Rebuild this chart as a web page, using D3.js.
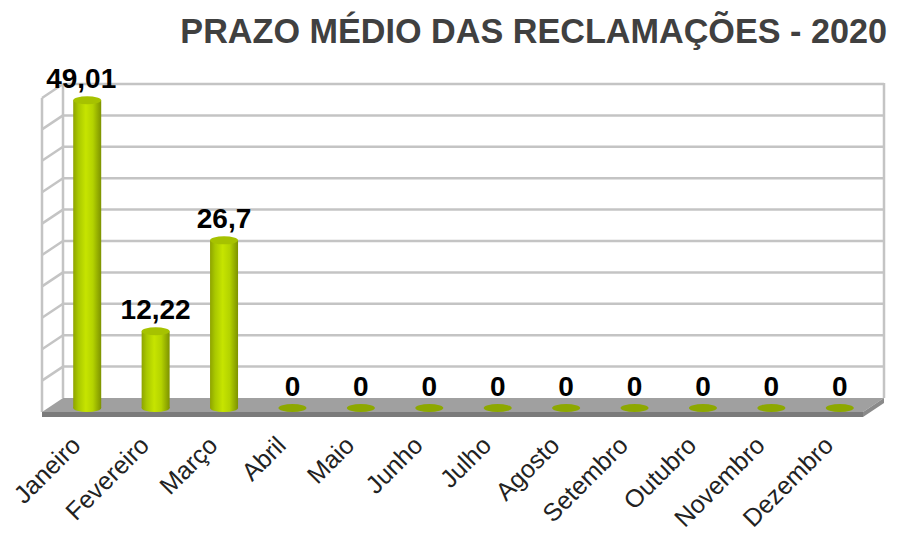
<!DOCTYPE html>
<html lang="pt">
<head>
  <meta charset="UTF-8">
  <title>Prazo médio das reclamações - 2020</title>
  <script src="https://d3js.org/d3.v7.min.js"></script>
  <style>
    body { margin: 0; background: #fff; }
    .grid { stroke: #c4c4c4; stroke-width: 2.5; fill: none; }
    .label { font-family: "Liberation Sans", Arial, sans-serif; font-weight: bold; font-size: 28px; fill: #000; text-anchor: middle; }
    .title { font-family: "Liberation Sans", Arial, sans-serif; font-weight: bold; font-size: 34.2px; fill: #404040; text-anchor: end; }
    .x.axis text { font-family: "Liberation Sans", Arial, sans-serif; font-size: 25px; fill: #222; }
  </style>
</head>
<body>
  <div id="chart"></div>
  <script>
    const months = ["Janeiro", "Fevereiro", "Março", "Abril", "Maio", "Junho",
                    "Julho", "Agosto", "Setembro", "Outubro", "Novembro", "Dezembro"];
    const values = [49.01, 12.22, 26.7, 0, 0, 0, 0, 0, 0, 0, 0, 0];
    const labels = ["49,01", "12,22", "26,7", "0", "0", "0", "0", "0", "0", "0", "0", "0"];

    const width = 900, height = 534;
    // front plane of the floor, and the depth offset to the back wall
    const front = { left: 42, right: 863, base: 412 };
    const depth = { dx: 21, dy: -14 };
    const barShift = { dx: 11, dy: -4 };   // bars sit part-way into the depth
    const rx = 14, ry = 4;

    const svg = d3.select("#chart")
      .append("svg")
      .attr("width", width)
      .attr("height", height);

    const x = d3.scaleBand()
      .domain(months)
      .range([front.left, front.right]);

    // value scale measured on the back wall
    const y = d3.scaleLinear()
      .domain([0, 50])
      .range([front.base + depth.dy, 84]);

    const backL = front.left + depth.dx, backR = front.right + depth.dx;
    const backBase = y(0), backTop = y(50);

    const defs = svg.append("defs");
    const grad = defs.append("linearGradient").attr("id", "cyl");
    [["0%", "#8ea300"], ["18%", "#a9c800"], ["45%", "#c6e400"], ["70%", "#b4d300"], ["100%", "#7d9200"]]
      .forEach(([o, c]) => grad.append("stop").attr("offset", o).attr("stop-color", c));

    // back wall
    svg.append("rect")
      .attr("x", backL).attr("y", backTop)
      .attr("width", backR - backL).attr("height", backBase - backTop)
      .attr("fill", "#fff");

    const ticks = y.ticks(10);

    // back wall gridlines
    svg.selectAll(".gridback")
      .data(ticks.filter(t => t > 0))
      .enter()
      .append("line")
      .attr("class", "grid")
      .attr("x1", backL).attr("x2", backR)
      .attr("y1", d => y(d)).attr("y2", d => y(d));

    // side wall gridlines
    svg.selectAll(".gridside")
      .data(ticks.filter(t => t > 0))
      .enter()
      .append("line")
      .attr("class", "grid")
      .attr("x1", backL).attr("x2", front.left)
      .attr("y1", d => y(d)).attr("y2", d => y(d) - depth.dy);

    // wall edges
    svg.append("line").attr("class", "grid")
      .attr("x1", backL).attr("x2", backL).attr("y1", backTop).attr("y2", backBase);
    svg.append("line").attr("class", "grid")
      .attr("x1", backR).attr("x2", backR).attr("y1", backTop - 1).attr("y2", backBase);
    svg.append("line").attr("class", "grid")
      .attr("x1", front.left).attr("x2", front.left)
      .attr("y1", backTop - depth.dy).attr("y2", front.base);

    // floor
    svg.append("polygon")
      .attr("points", [[backL, backBase], [backR, backBase], [front.right, front.base], [front.left, front.base]].join(" "))
      .attr("fill", "#a0a0a0");
    svg.append("polygon")
      .attr("points", [[front.left, front.base], [front.right, front.base], [front.right, front.base + 5], [front.left, front.base + 5]].join(" "))
      .attr("fill", "#7b7b7b");
    svg.append("polygon")
      .attr("points", [[front.right, front.base], [backR, backBase], [backR, backBase + 5], [front.right, front.base + 5]].join(" "))
      .attr("fill", "#8a8a8a");

    const cx = d => x(d) + x.bandwidth() / 2 + barShift.dx;
    const baseY = y(0) - depth.dy + barShift.dy;
    const topY = v => y(v) - depth.dy + barShift.dy;

    const bars = svg.selectAll(".bar")
      .data(months.map((m, i) => ({ m, v: values[i], l: labels[i] })))
      .enter()
      .append("g")
      .attr("class", "bar");

    bars.filter(d => d.v > 0).append("ellipse")
      .attr("cx", d => cx(d.m)).attr("cy", baseY)
      .attr("rx", rx).attr("ry", ry)
      .attr("fill", "url(#cyl)");

    bars.filter(d => d.v > 0).append("rect")
      .attr("x", d => cx(d.m) - rx).attr("width", rx * 2)
      .attr("y", d => topY(d.v)).attr("height", d => baseY - topY(d.v))
      .attr("fill", "url(#cyl)");

    bars.append("ellipse")
      .attr("cx", d => cx(d.m)).attr("cy", d => topY(d.v))
      .attr("rx", rx).attr("ry", ry)
      .attr("fill", d => d.v > 0 ? "#a6c200" : "#8da800");

    bars.append("text")
      .attr("class", "label")
      .attr("x", d => cx(d.m) - (d.v > 40 ? 6 : 0))
      .attr("y", d => topY(d.v) - 12)
      .text(d => d.l);

    // category axis
    const xAxis = svg.append("g")
      .attr("class", "x axis")
      .attr("transform", `translate(6,447)`)
      .call(d3.axisBottom(x).tickSize(0).tickPadding(0));
    xAxis.select(".domain").remove();
    xAxis.selectAll("text")
      .attr("dy", "0")
      .attr("y", 0)
      .attr("text-anchor", "end")
      .attr("transform", "rotate(-45)");

    // title
    svg.append("text")
      .attr("class", "title")
      .attr("x", 887)
      .attr("y", 43)
      .text("PRAZO MÉDIO DAS RECLAMAÇÕES - 2020");
  </script>
</body>
</html>
